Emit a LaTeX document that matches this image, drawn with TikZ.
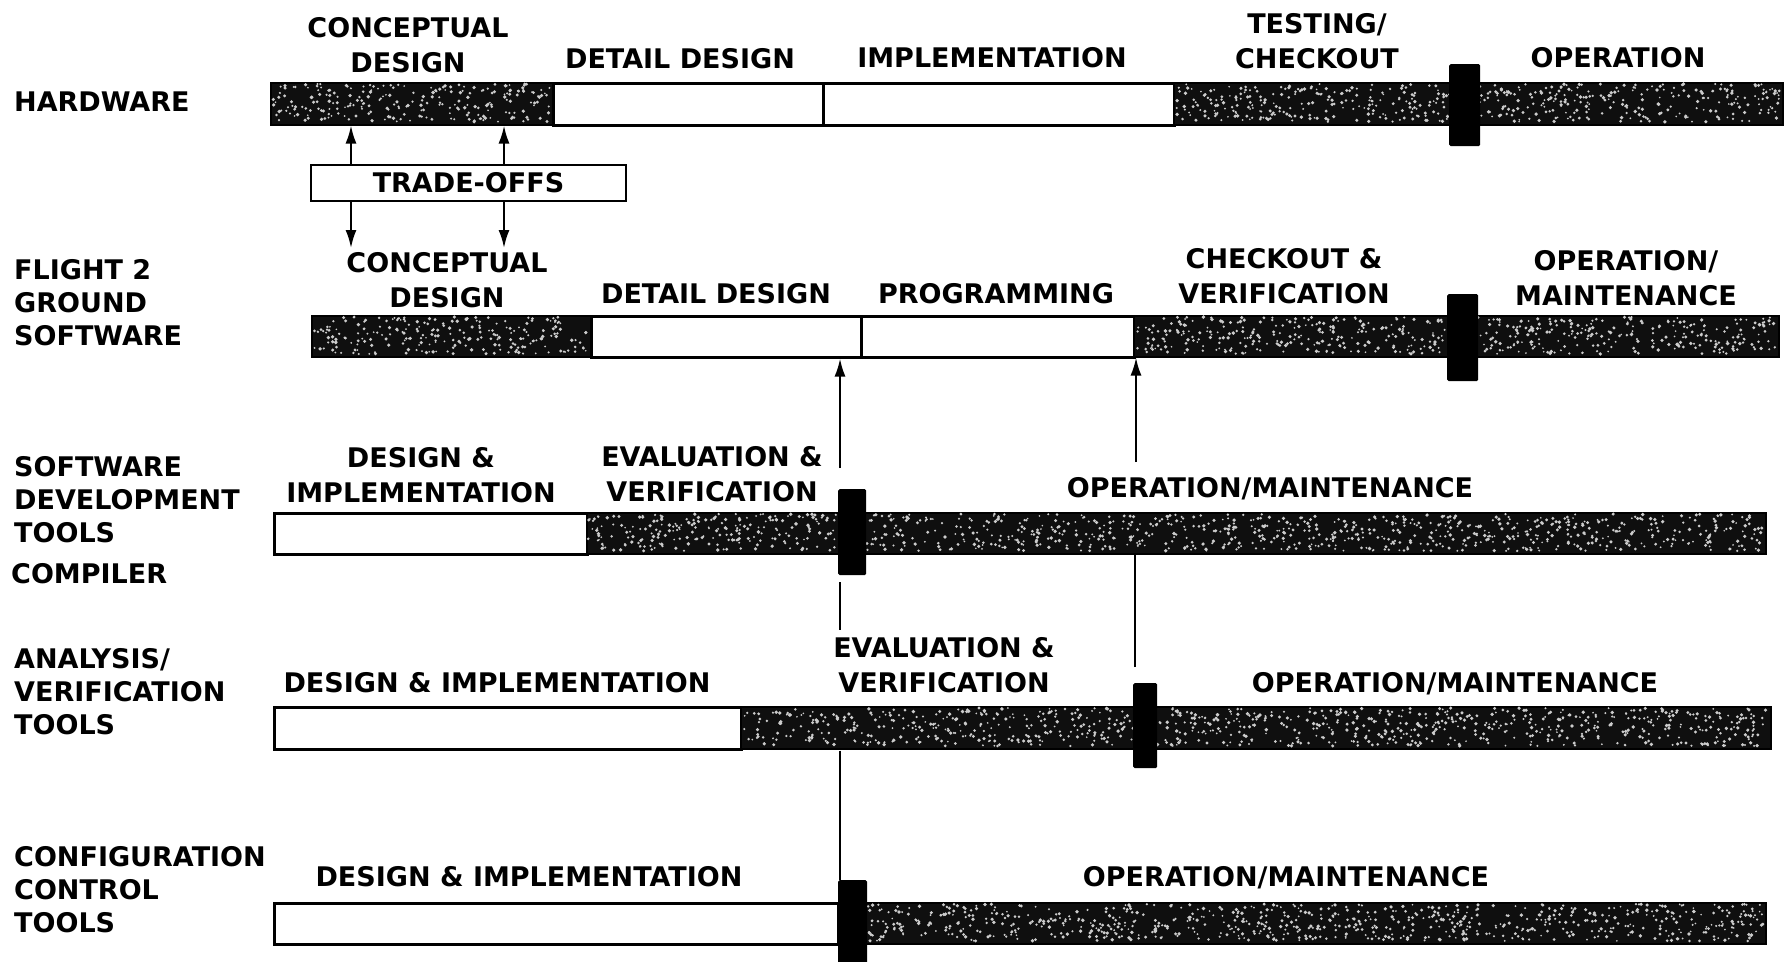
\documentclass[tikz,border=0pt]{standalone}
\usepackage{fontspec}
\setmainfont{DejaVu Sans}
\usetikzlibrary{arrows.meta}
\definecolor{barfill}{gray}{0.06}
\definecolor{speckcol}{gray}{0.8}
\newcommand\speckles[5]{%
  \foreach \k in {1,...,#5}{%
    \pgfmathsetmacro\sx{#1+rnd*(#3-#1)}%
    \pgfmathsetmacro\sy{#2+rnd*(#4-#2)}%
    \pgfmathsetmacro\sr{0.9+rnd*1.0}%
    \fill[speckcol] (\sx,\sy) circle[radius=\sr pt];
  }}
\tikzset{
  lbl/.style={font=\fontsize{27}{35}\selectfont\bfseries, inner sep=0pt, align=center, text depth=0pt, anchor=south},
  side/.style={font=\fontsize{27}{33}\selectfont\bfseries, inner sep=0pt, align=left, text depth=0pt, anchor=south west},
  darkseg/.style={rectangle, draw=black, line width=1.5pt, fill=barfill, inner sep=0pt, anchor=north west},
  whiteseg/.style={rectangle, draw=black, line width=2.5pt, fill=white, inner sep=0pt, anchor=north west},
  tickbox/.style={rectangle, fill=black, inner sep=0pt, anchor=north west, rounded corners=1.5pt},
  tradebox/.style={rectangle, draw=black, line width=2pt, fill=white, inner sep=0pt, font=\fontsize{27}{33}\selectfont\bfseries},
  conn/.style={line width=2.2pt},
  arr/.style={conn, -{Latex[length=18pt,width=11pt]}},
}
\begin{document}
\begin{tikzpicture}[x=1pt,y=-1pt]
\useasboundingbox (0,0) rectangle (1785,961);
\pgfmathsetseed{4242}

% ---------- HARDWARE ----------
\node[darkseg, minimum width=282, minimum height=42] (hwA) at (270,82) {};
\node[whiteseg, minimum width=270, minimum height=42] (hwB) at (552,82) {};
\node[whiteseg, minimum width=351, minimum height=42] (hwC) at (822,82) {};
\node[darkseg, minimum width=609, minimum height=42] (hwD) at (1173,82) {};
\speckles{272}{84}{550}{122}{240}
\speckles{1175}{84}{1780}{122}{520}
\node[tickbox, minimum width=31, minimum height=82] (hwT) at (1449,64) {};

% ---------- FLIGHT 2 GROUND SOFTWARE ----------
\node[darkseg, minimum width=279, minimum height=41] (fA) at (311,315) {};
\node[whiteseg, minimum width=270, minimum height=41] (fB) at (590,315) {};
\node[whiteseg, minimum width=273, minimum height=41] (fC) at (860,315) {};
\node[darkseg, minimum width=645, minimum height=41] (fD) at (1133,315) {};
\speckles{313}{317}{588}{354}{235}
\speckles{1135}{317}{1776}{354}{540}
\node[tickbox, minimum width=31, minimum height=87] (fT) at (1447,294) {};

% ---------- SOFTWARE DEVELOPMENT TOOLS ----------
\node[whiteseg, minimum width=313, minimum height=41] (sA) at (273,512) {};
\node[darkseg, minimum width=1179, minimum height=41] (sB) at (586,512) {};
\speckles{588}{514}{1763}{551}{1000}
\node[tickbox, minimum width=28, minimum height=86] (sT) at (838,489) {};

% ---------- ANALYSIS / VERIFICATION TOOLS ----------
\node[whiteseg, minimum width=467, minimum height=42] (aA) at (273,706) {};
\node[darkseg, minimum width=1030, minimum height=42] (aB) at (740,706) {};
\speckles{742}{708}{1768}{746}{880}
\node[tickbox, minimum width=24, minimum height=85] (aT) at (1133,683) {};

% ---------- CONFIGURATION CONTROL TOOLS ----------
\node[whiteseg, minimum width=564, minimum height=41] (cA) at (273,902) {};
\node[darkseg, minimum width=928, minimum height=41] (cB) at (837,902) {};
\speckles{839}{904}{1763}{941}{790}
\node[tickbox, minimum width=29, minimum height=85] (cT) at (838,880) {};

% ---------- left labels ----------
\node[side] (lhw) at (14,112) {HARDWARE};
\node[side] (lfl) at (14,346) {FLIGHT 2\\GROUND\\SOFTWARE};
\node[side] (lsd) at (14,543) {SOFTWARE\\DEVELOPMENT\\TOOLS};
\node[side] (lco) at (11,584) {COMPILER};
\node[side] (lan) at (14,735) {ANALYSIS/\\VERIFICATION\\TOOLS};
\node[side] (lcc) at (14,933) {CONFIGURATION\\CONTROL\\TOOLS};

% ---------- phase labels ----------
\node[lbl] (h1) at (408,73) {CONCEPTUAL\\DESIGN};
\node[lbl] (h2) at (680,69) {DETAIL DESIGN};
\node[lbl] (h3) at (992,68) {IMPLEMENTATION};
\node[lbl] (h4) at (1317,69) {TESTING/\\CHECKOUT};
\node[lbl] (h5) at (1618,68) {OPERATION};

\node[lbl] (f1) at (447,308) {CONCEPTUAL\\DESIGN};
\node[lbl] (f2) at (716,304) {DETAIL DESIGN};
\node[lbl] (f3) at (996,304) {PROGRAMMING};
\node[lbl] (f4) at (1284,304) {CHECKOUT \&\\VERIFICATION};
\node[lbl] (f5) at (1626,306) {OPERATION/\\MAINTENANCE};

\node[lbl] (s1) at (421,503) {DESIGN \&\\IMPLEMENTATION};
\node[lbl] (s2) at (712,502) {EVALUATION \&\\VERIFICATION};
\node[lbl] (s3) at (1270,498) {OPERATION/MAINTENANCE};

\node[lbl] (a1) at (497,693) {DESIGN \& IMPLEMENTATION};
\node[lbl] (a2) at (944,693) {EVALUATION \&\\VERIFICATION};
\node[lbl] (a3) at (1455,693) {OPERATION/MAINTENANCE};

\node[lbl] (c1) at (529,887) {DESIGN \& IMPLEMENTATION};
\node[lbl] (c2) at (1286,887) {OPERATION/MAINTENANCE};

% ---------- trade-offs ----------
\node[tradebox, minimum width=315, minimum height=36] (to) at (468.5,183) {TRADE-OFFS\hspace{18pt}};
\coordinate (t1) at (351,0);
\coordinate (t2) at (504,0);
\coordinate (tdn) at (0,248);
\draw[arr] (t1 |- to.north) -- (t1 |- hwA.south);
\draw[arr] (t2 |- to.north) -- (t2 |- hwA.south);
\draw[arr] (t1 |- to.south) -- (t1 |- tdn);
\draw[arr] (t2 |- to.south) -- (t2 |- tdn);

% ---------- interface connectors ----------
\coordinate (e1) at (840,468);
\coordinate (e2) at (840,630);
\coordinate (e3) at (1135,667);
\coordinate (e4) at (1136,462);
\draw[arr] (e1) -- (e1 |- fB.south);
\draw[conn] (e1 |- sT.south) ++(0,7) -- (e2);
\draw[conn] (e1 |- aA.south) -- (e1 |- cT.north);
\draw[conn] (e3) -- (e3 |- sB.south);
\draw[arr] (e4) -- (e4 |- fD.south);
\end{tikzpicture}
\end{document}
